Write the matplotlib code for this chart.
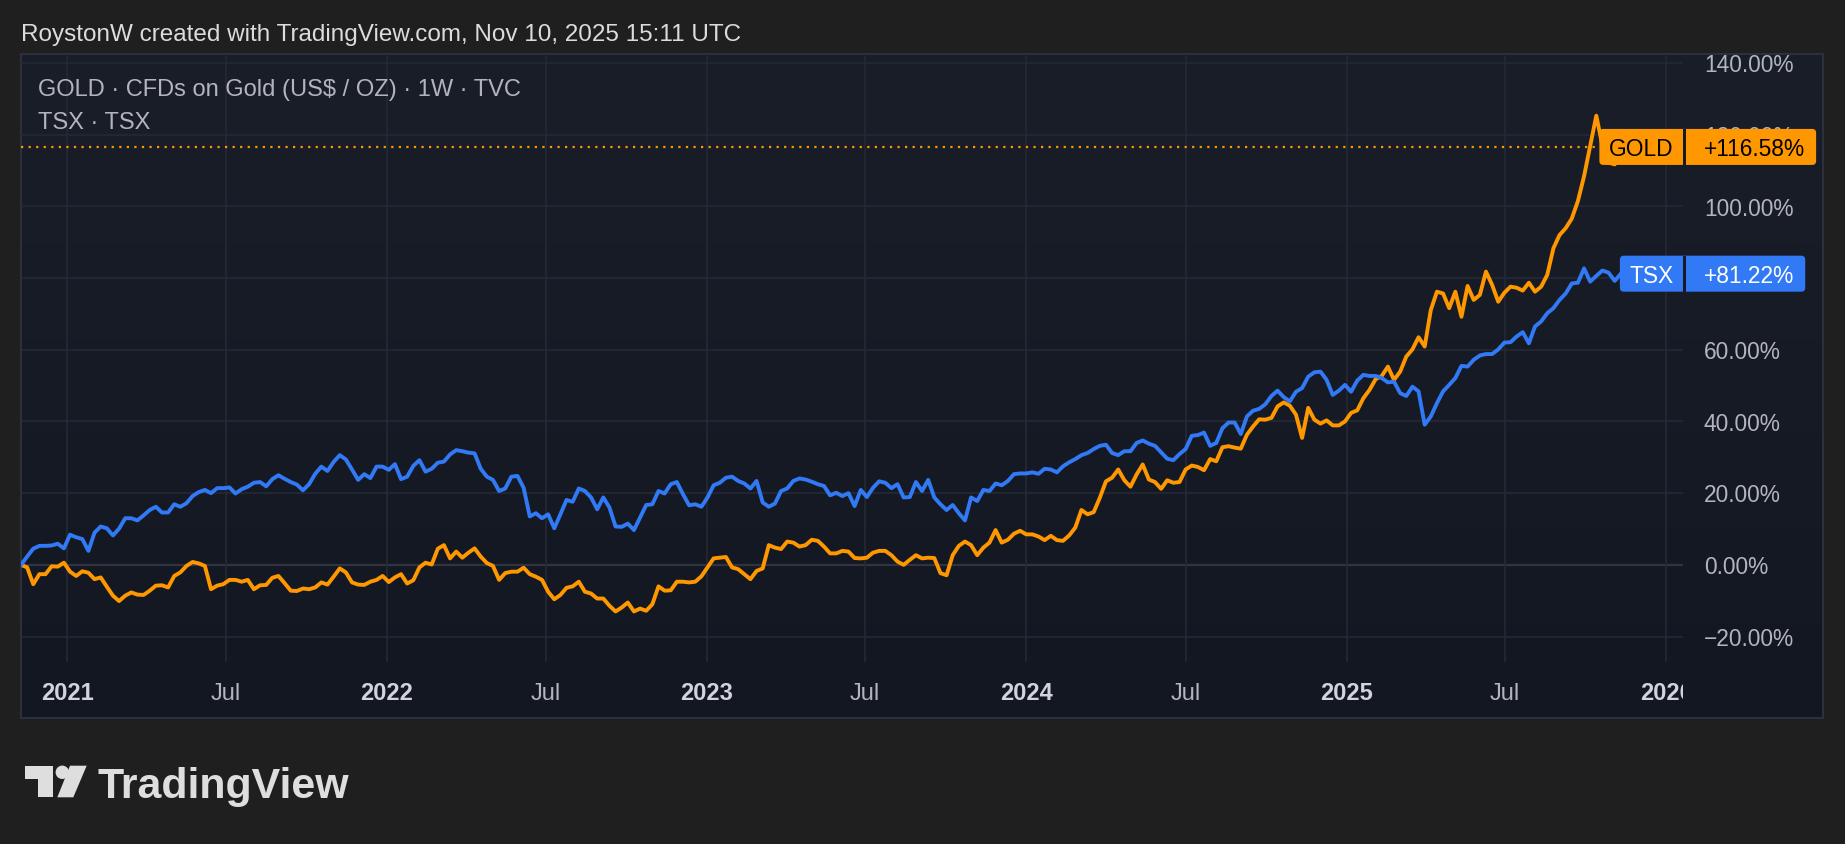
import matplotlib
matplotlib.use('Agg')
import matplotlib.pyplot as plt
import numpy as np
import pandas as pd
from matplotlib.patches import Rectangle, FancyBboxPatch, Circle, Polygon
from matplotlib.transforms import Bbox, IdentityTransform
from matplotlib.colors import LinearSegmentedColormap

# weekly % change since first bar
start = '2020-11-09'
tsx = [0.0, 2.3, 4.5, 5.3, 5.3, 5.4, 5.9, 4.6, 8.4, 7.7, 7.2, 3.9, 9.0, 10.7, 10.2, 8.2,
       10.1, 13.0, 13.0, 12.4, 13.8, 15.3, 16.2, 14.6, 14.6, 16.9, 16.2, 17.2, 19.2, 20.3,
       20.9, 20.0, 21.4, 21.4, 21.6, 19.9, 21.1, 21.8, 22.9, 23.1, 21.9, 23.9, 25.0, 24.0,
       23.1, 22.4, 20.8, 22.5, 25.4, 27.4, 26.2, 28.7, 30.6, 29.4, 26.6, 23.7, 25.3, 24.2,
       27.4, 27.4, 26.5, 28.1,
       23.9, 24.6, 27.6, 29.2, 26.0, 26.8, 28.5, 28.8, 30.8, 32.0, 31.7, 31.3, 31.1, 26.8,
       24.6, 23.7, 20.6, 21.3, 24.6, 24.8, 21.5, 13.5, 14.4, 13.0, 14.1, 10.2, 14.1, 18.1,
       17.6, 21.3, 20.6, 18.8, 15.5, 18.8, 16.0, 10.7, 10.6, 11.5, 9.7, 13.2, 16.7, 16.9,
       20.6, 19.9, 22.5, 23.1, 19.7, 16.6, 16.9, 16.2, 18.8, 22.2,
       22.9, 24.3, 24.6, 23.4, 22.7, 21.3, 23.4, 17.4, 16.2, 17.1, 20.6, 21.3, 23.4, 24.1,
       23.8, 23.2, 22.5, 22.0, 19.4, 20.1, 19.2, 20.0, 16.4, 20.9, 18.9, 21.5, 23.3, 22.9,
       21.4, 22.5, 18.8, 18.9, 23.1, 20.6, 23.7, 18.8, 16.9, 15.3, 16.7, 14.4, 12.4, 18.8,
       17.8, 20.9, 20.6, 22.7, 22.2, 23.4, 25.3, 25.5, 25.5, 25.8,
       25.4, 26.8, 26.6, 25.8, 27.5, 28.6, 29.5, 30.6, 31.2, 32.3, 33.2, 33.5, 31.2, 30.6,
       31.7, 31.7, 34.0, 34.7, 33.8, 33.2, 31.4, 29.6, 29.2, 30.9, 32.3, 36.0, 36.2, 36.9,
       33.2, 34.0, 38.1, 39.7, 39.7, 36.5, 41.4, 43.0, 43.5, 44.8, 47.1, 48.6, 46.8, 45.6,
       48.3, 49.3, 52.5, 53.7, 53.9, 51.6, 47.4, 48.6, 50.2, 48.3,
       51.4, 53.0, 52.7, 52.7, 52.1, 50.9, 51.1, 47.9, 47.1, 49.7, 48.4, 39.1, 41.4, 45.1,
       48.4, 50.2, 52.1, 55.5, 55.3, 57.2, 58.4, 58.8, 58.8, 60.1, 62.0, 62.1, 63.7, 64.9,
       61.8, 66.5, 67.9, 70.2, 71.6, 73.9, 75.7, 78.5, 78.7, 82.7, 79.0, 80.6, 82.1, 81.5,
       79.2, 81.22]
gold = [0.0, -0.7, -5.4, -2.6, -2.6, -0.4, -0.5, 0.6, -1.9, -3.1, -1.8, -2.2, -4.0, -3.5,
        -6.1, -8.6, -10.1, -8.6, -7.7, -8.3, -8.4, -7.2, -5.8, -5.7, -6.3, -3.1, -2.1, -0.3,
        0.8, 0.4, -0.3, -6.8, -5.8, -5.4, -4.2, -4.2, -4.7, -4.2, -6.8, -5.7, -5.6, -3.6,
        -3.1, -5.1, -7.2, -7.3, -6.6, -6.8, -6.3, -4.9, -5.5, -3.3, -1.0, -2.1, -4.9, -5.5,
        -5.6, -4.7, -4.2, -3.1, -4.8, -3.5,
        -2.6, -5.2, -4.3, -0.7, 0.6, 0.1, 4.5, 5.5, 1.8, 3.7, 2.0, 3.4, 4.6, 2.3, 0.5, -0.3,
        -4.2, -2.3, -1.9, -1.9, -0.8, -2.6, -3.3, -4.2, -7.5, -9.6, -8.4, -6.4, -6.0, -4.7,
        -7.5, -8.0, -9.4, -9.4, -11.4, -13.0, -11.9, -10.5, -13.0, -12.2, -12.8, -11.0, -6.0,
        -7.2, -7.1, -4.7, -4.7, -4.9, -4.7, -3.2, -0.7, 1.8,
        2.0, 2.2, -0.7, -1.2, -2.6, -4.0, -1.7, -1.0, 5.5, 4.8, 4.4, 6.5, 6.2, 5.1, 5.5, 7.0,
        6.7, 5.1, 3.2, 3.2, 3.9, 3.7, 1.9, 1.8, 2.0, 3.4, 3.9, 3.9, 2.7, 0.9, 0.0, 1.4, 2.7,
        1.8, 2.0, 1.9, -2.3, -2.9, 2.7, 5.3, 6.5, 5.5, 2.7, 4.8, 6.2, 9.7, 6.2, 7.0, 8.7, 9.5,
        8.5, 8.5,
        7.9, 6.9, 8.1, 6.9, 6.7, 8.2, 10.4, 15.3, 14.1, 14.7, 18.7, 23.3, 24.3, 26.6, 23.6,
        21.8, 25.2, 28.0, 23.8, 23.1, 21.2, 23.6, 22.9, 23.1, 26.6, 27.7, 27.3, 26.4, 29.5,
        28.9, 32.8, 33.1, 32.7, 32.4, 36.3, 38.6, 40.6, 40.5, 41.0, 44.2, 45.3, 44.4, 41.9,
        35.4, 43.8, 40.5, 39.4, 40.3, 38.9, 38.9, 40.0, 42.4,
        43.1, 46.5, 48.8, 51.8, 52.7, 55.3, 51.6, 53.9, 58.1, 60.1, 63.5, 60.9, 71.1, 76.2,
        75.7, 71.6, 76.2, 69.2, 77.8, 73.9, 75.3, 81.8, 78.1, 73.4, 75.9, 77.6, 77.3, 76.5,
        78.7, 76.2, 77.6, 80.9, 88.3, 92.0, 93.9, 96.6, 101.5, 108.4, 116.8, 125.3, 116.8,
        112.2, 111.7, 116.58]
gold_last = 116.58
tsx_last = 81.22

tick_dates = ['2021-01-01', '2021-07-01', '2022-01-01', '2022-07-01', '2023-01-01',
              '2023-07-01', '2024-01-01', '2024-07-01', '2025-01-01', '2025-07-01',
              '2026-01-01']
tick_labels = ['2021', 'Jul', '2022', 'Jul', '2023', 'Jul', '2024', 'Jul', '2025', 'Jul', '2026']
y_ticks = [-20, 0, 20, 40, 60, 80, 100, 120, 140]

ORANGE = '#ff9800'
BLUE = '#3179f5'
PANEL = '#161a25'
FONT = 'Liberation Sans'

W, H = 1845, 845
fig = plt.figure(figsize=(W / 100, H / 100), dpi=100)
fig.patch.set_facecolor('#1f1f1f')
px = IdentityTransform()

# chart panel with a faint vertical gradient
bg = fig.add_axes([21 / W, 1 - 719 / H, 1802 / W, 664 / H], zorder=-2)
bg.imshow(np.linspace(0, 1, 256).reshape(-1, 1), aspect='auto', extent=(0, 1, 0, 1),
          cmap=LinearSegmentedColormap.from_list('p', ['#1a1e29', '#131722']))
bg.set_axis_off()
fig.add_artist(Rectangle((21, H - 719), 1802, 664, transform=px, facecolor='none',
                         edgecolor='#2c303b', lw=1.5, zorder=-1))

ax = fig.add_axes([21 / W, 1 - 663 / H, 1662 / W, 608 / H])
ax.set_facecolor('none')
for s in ax.spines.values():
    s.set_visible(False)

weeks = pd.date_range(start, periods=len(tsx), freq='7D')
ax.set_xlim(weeks[0], weeks[0] + pd.Timedelta(days=1898))
ax.set_ylim(-27.1, 142.5)
ax.set_xticks(pd.to_datetime(tick_dates))
ax.set_yticks(y_ticks)
ax.tick_params(length=0, labelbottom=False, labelleft=False)
ax.grid(color='#252935', lw=1.2, zorder=0)
ax.axhline(0, color='#6b6e79', lw=1.5, zorder=1)

ax.axhline(gold_last, color=ORANGE, lw=1.6, ls=(0, (1, 2.4)), zorder=2)
ax.plot(weeks, gold, color=ORANGE, lw=2.8, zorder=3, solid_joinstyle='round')
ax.plot(weeks, tsx, color=BLUE, lw=2.8, zorder=4, solid_joinstyle='round')


def cap_text(x, yc, s, size, **kw):
    # place text so the cap height is centred on yc (display px)
    base = yc - 0.716 * size * 100 / 72 / 2
    return fig.text(x, base, s, transform=px, va='baseline', fontsize=size,
                    family=FONT, **kw)


# header texts
cap_text(21, H - 32, 'RoystonW created with TradingView.com, Nov 10, 2025 15:11 UTC', 17.5,
         color='#dcdcdc')
cap_text(38, H - 88, 'GOLD · CFDs on Gold (US$ / OZ) · 1W · TVC', 17, color='#b2b5be')
cap_text(38, H - 121, 'TSX · TSX', 17, color='#b2b5be')

# price axis (skip the label hidden under the TSX tag)
for v in y_ticks:
    yd = ax.transData.transform((0, v))[1]
    if abs(yd - ax.transData.transform((0, tsx_last))[1]) < 12:
        continue
    lab = f'{v:.2f}%'.replace('-', '\u2212')
    cap_text(1704, yd, lab, 16.4, color='#b2b5be', zorder=3)

# time axis
clip = Bbox([[21, 0], [1683, H]])
for d, lab in zip(pd.to_datetime(tick_dates), tick_labels):
    xd = ax.transData.transform((matplotlib.dates.date2num(d), 0))[0]
    yr = lab != 'Jul'
    t = cap_text(xd, H - 692, lab, 17, ha='center',
                 color='#d1d4dc' if yr else '#b2b5be',
                 fontweight='bold' if yr else 'normal')
    t.set_clip_box(clip)
    t.set_clip_on(True)

# last value labels
fig.canvas.draw()
r = fig.canvas.get_renderer()


def price_label(val, name, fc, tc):
    yd = ax.transData.transform((0, val))[1]
    nt = cap_text(1674, yd, name, 16.4, ha='right', color=tc, zorder=8)
    vt = cap_text(1704, yd, f'+{val:.2f}%', 16.4, color=tc, zorder=8)
    nb = nt.get_window_extent(r)
    vb = vt.get_window_extent(r)
    x0, x1 = nb.x0 - 10, vb.x1 + 11
    fig.add_artist(FancyBboxPatch((x0, yd - 18), x1 - x0, 36, transform=px,
                                  boxstyle='round,pad=0,rounding_size=4',
                                  fc=fc, ec='none', zorder=6))
    fig.add_artist(Rectangle((1683, yd - 18), 2.5, 36, transform=px, fc=PANEL,
                             ec='none', zorder=7))


price_label(gold_last, 'GOLD', ORANGE, '#000000')
price_label(tsx_last, 'TSX', BLUE, '#ffffff')

# TradingView logo
LOGO = '#dedede'
fig.add_artist(Polygon([(25, H - 766.7), (53.3, H - 766.7), (53.3, H - 798.3), (38.3, H - 798.3),
                        (38.3, H - 780), (25, H - 780)], closed=True, transform=px,
                       fc=LOGO, ec='none'))
fig.add_artist(Circle((62.3, H - 773.3), 6.7, transform=px, fc=LOGO, ec='none'))
fig.add_artist(Polygon([(70, H - 766.7), (86.7, H - 766.7), (73.3, H - 798.3), (57.3, H - 798.3)],
                       closed=True, transform=px, fc=LOGO, ec='none'))
fig.text(97, H - 798.3, 'TradingView', transform=px, va='baseline', fontsize=30.9,
         family=FONT, fontweight='bold', color=LOGO)

fig.savefig('out.png', dpi=100, facecolor=fig.get_facecolor())
